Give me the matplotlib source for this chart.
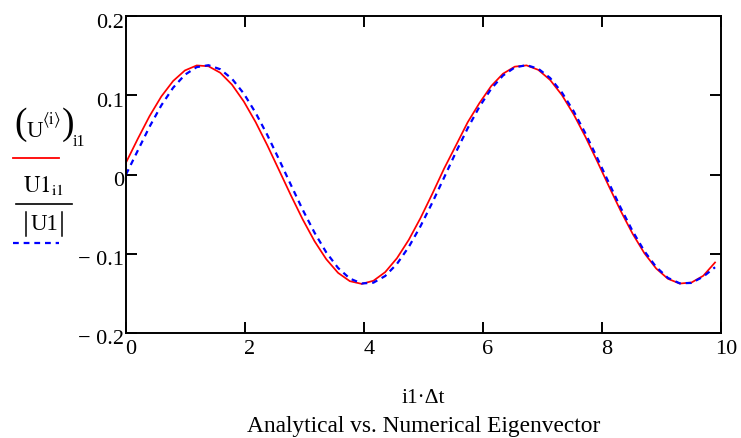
import matplotlib
matplotlib.use("Agg")
import matplotlib.pyplot as plt
from matplotlib.lines import Line2D
from matplotlib.transforms import ScaledTranslation

plt.rcParams['font.family'] = ['Liberation Serif', 'DejaVu Serif']
plt.rcParams['mathtext.fontset'] = 'stix'

# ---- data ----
dt = 0.198
i1 = list(range(51))
analytical = [0.0150, 0.0450, 0.0737, 0.0985, 0.1180, 0.1313, 0.1376, 0.1366, 0.1284, 0.1133,
              0.0921, 0.0662, 0.0367, 0.0052, -0.0264, -0.0567, -0.0841, -0.1069, -0.1241, -0.1346,
              -0.1380, -0.1341, -0.1232, -0.1056, -0.0825, -0.0549, -0.0244, 0.0074, 0.0365, 0.0658,
              0.0901, 0.1116, 0.1272, 0.1361, 0.1377, 0.1320, 0.1193, 0.1003, 0.0759, 0.0475,
              0.0166, -0.0152, -0.0462, -0.0747, -0.0993, -0.1186, -0.1316, -0.1376, -0.1363, -0.1278,
              -0.1110]
numerical = [0.0000, 0.0302, 0.0603, 0.0873, 0.1095, 0.1259, 0.1355, 0.1379, 0.1328, 0.1207,
             0.1021, 0.0779, 0.0497, 0.0187, -0.0132, -0.0445, -0.0733, -0.0983, -0.1179, -0.1313,
             -0.1375, -0.1365, -0.1281, -0.1128, -0.0915, -0.0652, -0.0355, -0.0039, 0.0280, 0.0583,
             0.0855, 0.1082, 0.1249, 0.1351, 0.1380, 0.1334, 0.1218, 0.1035, 0.0798, 0.0518,
             0.0209, -0.0110, -0.0423, -0.0714, -0.0967, -0.1167, -0.1305, -0.1373, -0.1368, -0.1289,
             -0.1170]
xticks = [0, 2, 4, 6, 8, 10]
xticklabels = ['0', '2', '4', '6', '8', '10']
yticks = [-0.2, -0.1, 0.0, 0.1, 0.2]
yticklabels = ['\u2212 0.2', '\u2212 0.1', '0', '0.1', '0.2']
xlabel = 'i1\u00b7\u0394t'
title = 'Analytical vs. Numerical Eigenvector'

W, H = 741, 438
fig = plt.figure(figsize=(W / 100, H / 100), dpi=100)
L, R, T, B = 126, 721, 16, 333
ax = fig.add_axes([L / W, 1 - B / H, (R - L) / W, (B - T) / H])

t = [k * dt for k in i1]
ax.plot(t, analytical, color='#ff0000', lw=1.25, solid_joinstyle='miter')
ax.plot(t, numerical, color='#0000ff', lw=1.6, dashes=(2.6, 2.2))

ax.set_xlim(0, 10)
ax.set_ylim(-0.2, 0.2)
ax.set_xticks(xticks)
ax.set_xticklabels(xticklabels)
ax.set_yticks(yticks)
ax.set_yticklabels(yticklabels)
for s in ax.spines.values():
    s.set_linewidth(1.4)
ax.tick_params(direction='in', length=8, width=1.4, top=True, right=True,
               labelsize=16, color='black')
ax.tick_params(axis='x', pad=5)
ax.tick_params(axis='y', pad=1.5)
for lab in ax.get_xticklabels():
    lab.set_transform(lab.get_transform() + ScaledTranslation(5 / 100, 0, fig.dpi_scale_trans))
for lab in ax.get_yticklabels():
    lab.set_transform(lab.get_transform() + ScaledTranslation(0, -4.5 / 100, fig.dpi_scale_trans))

cx = (L + R) / 2 / W
fig.text(cx, 1 - 403 / H, xlabel, ha='center', va='baseline', fontsize=15.5)
fig.text(cx, 1 - 432 / H, title, ha='center', va='baseline', fontsize=16.8)

# ---- legend-like y label at left ----
ov = fig.add_axes([0, 0, 1, 1], facecolor='none')
ov.set_xlim(0, W)
ov.set_ylim(H, 0)
ov.axis('off')
ov.text(14, 125, '(', ha='left', va='center', fontsize=27)
ov.text(27, 137, 'U', ha='left', va='baseline', fontsize=16.5)
ov.text(42, 124, r'$\langle\mathrm{i}\rangle$', ha='left', va='baseline', fontsize=12)
ov.text(62, 125, ')', ha='left', va='center', fontsize=27)
ov.text(73, 146, 'i1', ha='left', va='baseline', fontsize=11.5)
ov.add_line(Line2D([13, 59], [158, 158], color='#ff0000', lw=1.3))

ov.text(44, 192, r'$\mathrm{U1}_{\mathrm{i1}}$', ha='center', va='baseline', fontsize=16.5)
ov.add_line(Line2D([16, 72], [204, 204], color='black', lw=1.2))
ov.text(44.5, 230, 'U1', ha='center', va='baseline', fontsize=16.5)
ov.add_line(Line2D([26, 26], [212, 236], color='black', lw=1.1))
ov.add_line(Line2D([62, 62], [212, 236], color='black', lw=1.1))
ov.add_line(Line2D([13, 59], [243, 243], color='#0000ff', lw=1.6, dashes=(2.6, 2.2)))

fig.savefig('out.png', dpi=100)
